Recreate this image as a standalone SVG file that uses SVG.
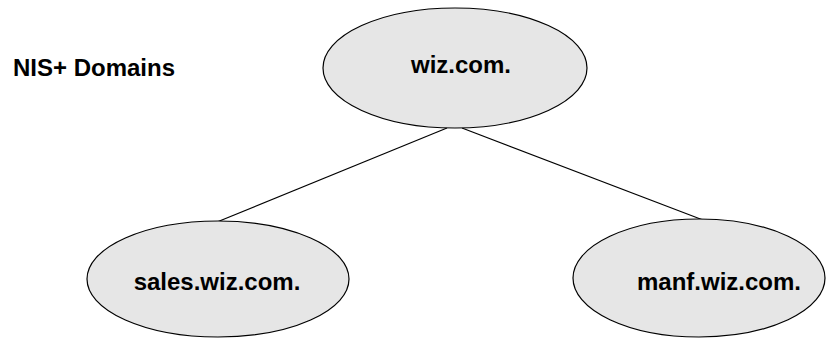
<svg xmlns="http://www.w3.org/2000/svg" width="830" height="339" viewBox="0 0 830 339">
  <style>
    .node { fill: #e6e6e6; stroke: #000; stroke-width: 1.2; }
    .label { font-family: "Liberation Sans", Arial, sans-serif; font-weight: bold; font-size: 24px; fill: #000; }
    .edge { stroke: #000; stroke-width: 1.2; fill: none; }
  </style>
  <rect width="830" height="339" fill="#fff"/>
  <text class="label" x="13" y="76">NIS+ Domains</text>
  <g id="connectors">
    <line class="edge" x1="447" y1="128" x2="217" y2="222"/>
    <line class="edge" x1="462" y1="128" x2="703" y2="220"/>
  </g>
  <g id="wiz">
    <ellipse class="node" cx="455" cy="68" rx="132" ry="60"/>
    <text class="label" x="461" y="73" text-anchor="middle">wiz.com.</text>
  </g>
  <g id="sales">
    <ellipse class="node" cx="218" cy="279" rx="131" ry="58"/>
    <text class="label" x="217" y="290" text-anchor="middle">sales.wiz.com.</text>
  </g>
  <g id="manf">
    <ellipse class="node" cx="699" cy="278" rx="126" ry="59"/>
    <text class="label" x="719" y="290" text-anchor="middle">manf.wiz.com.</text>
  </g>
</svg>
